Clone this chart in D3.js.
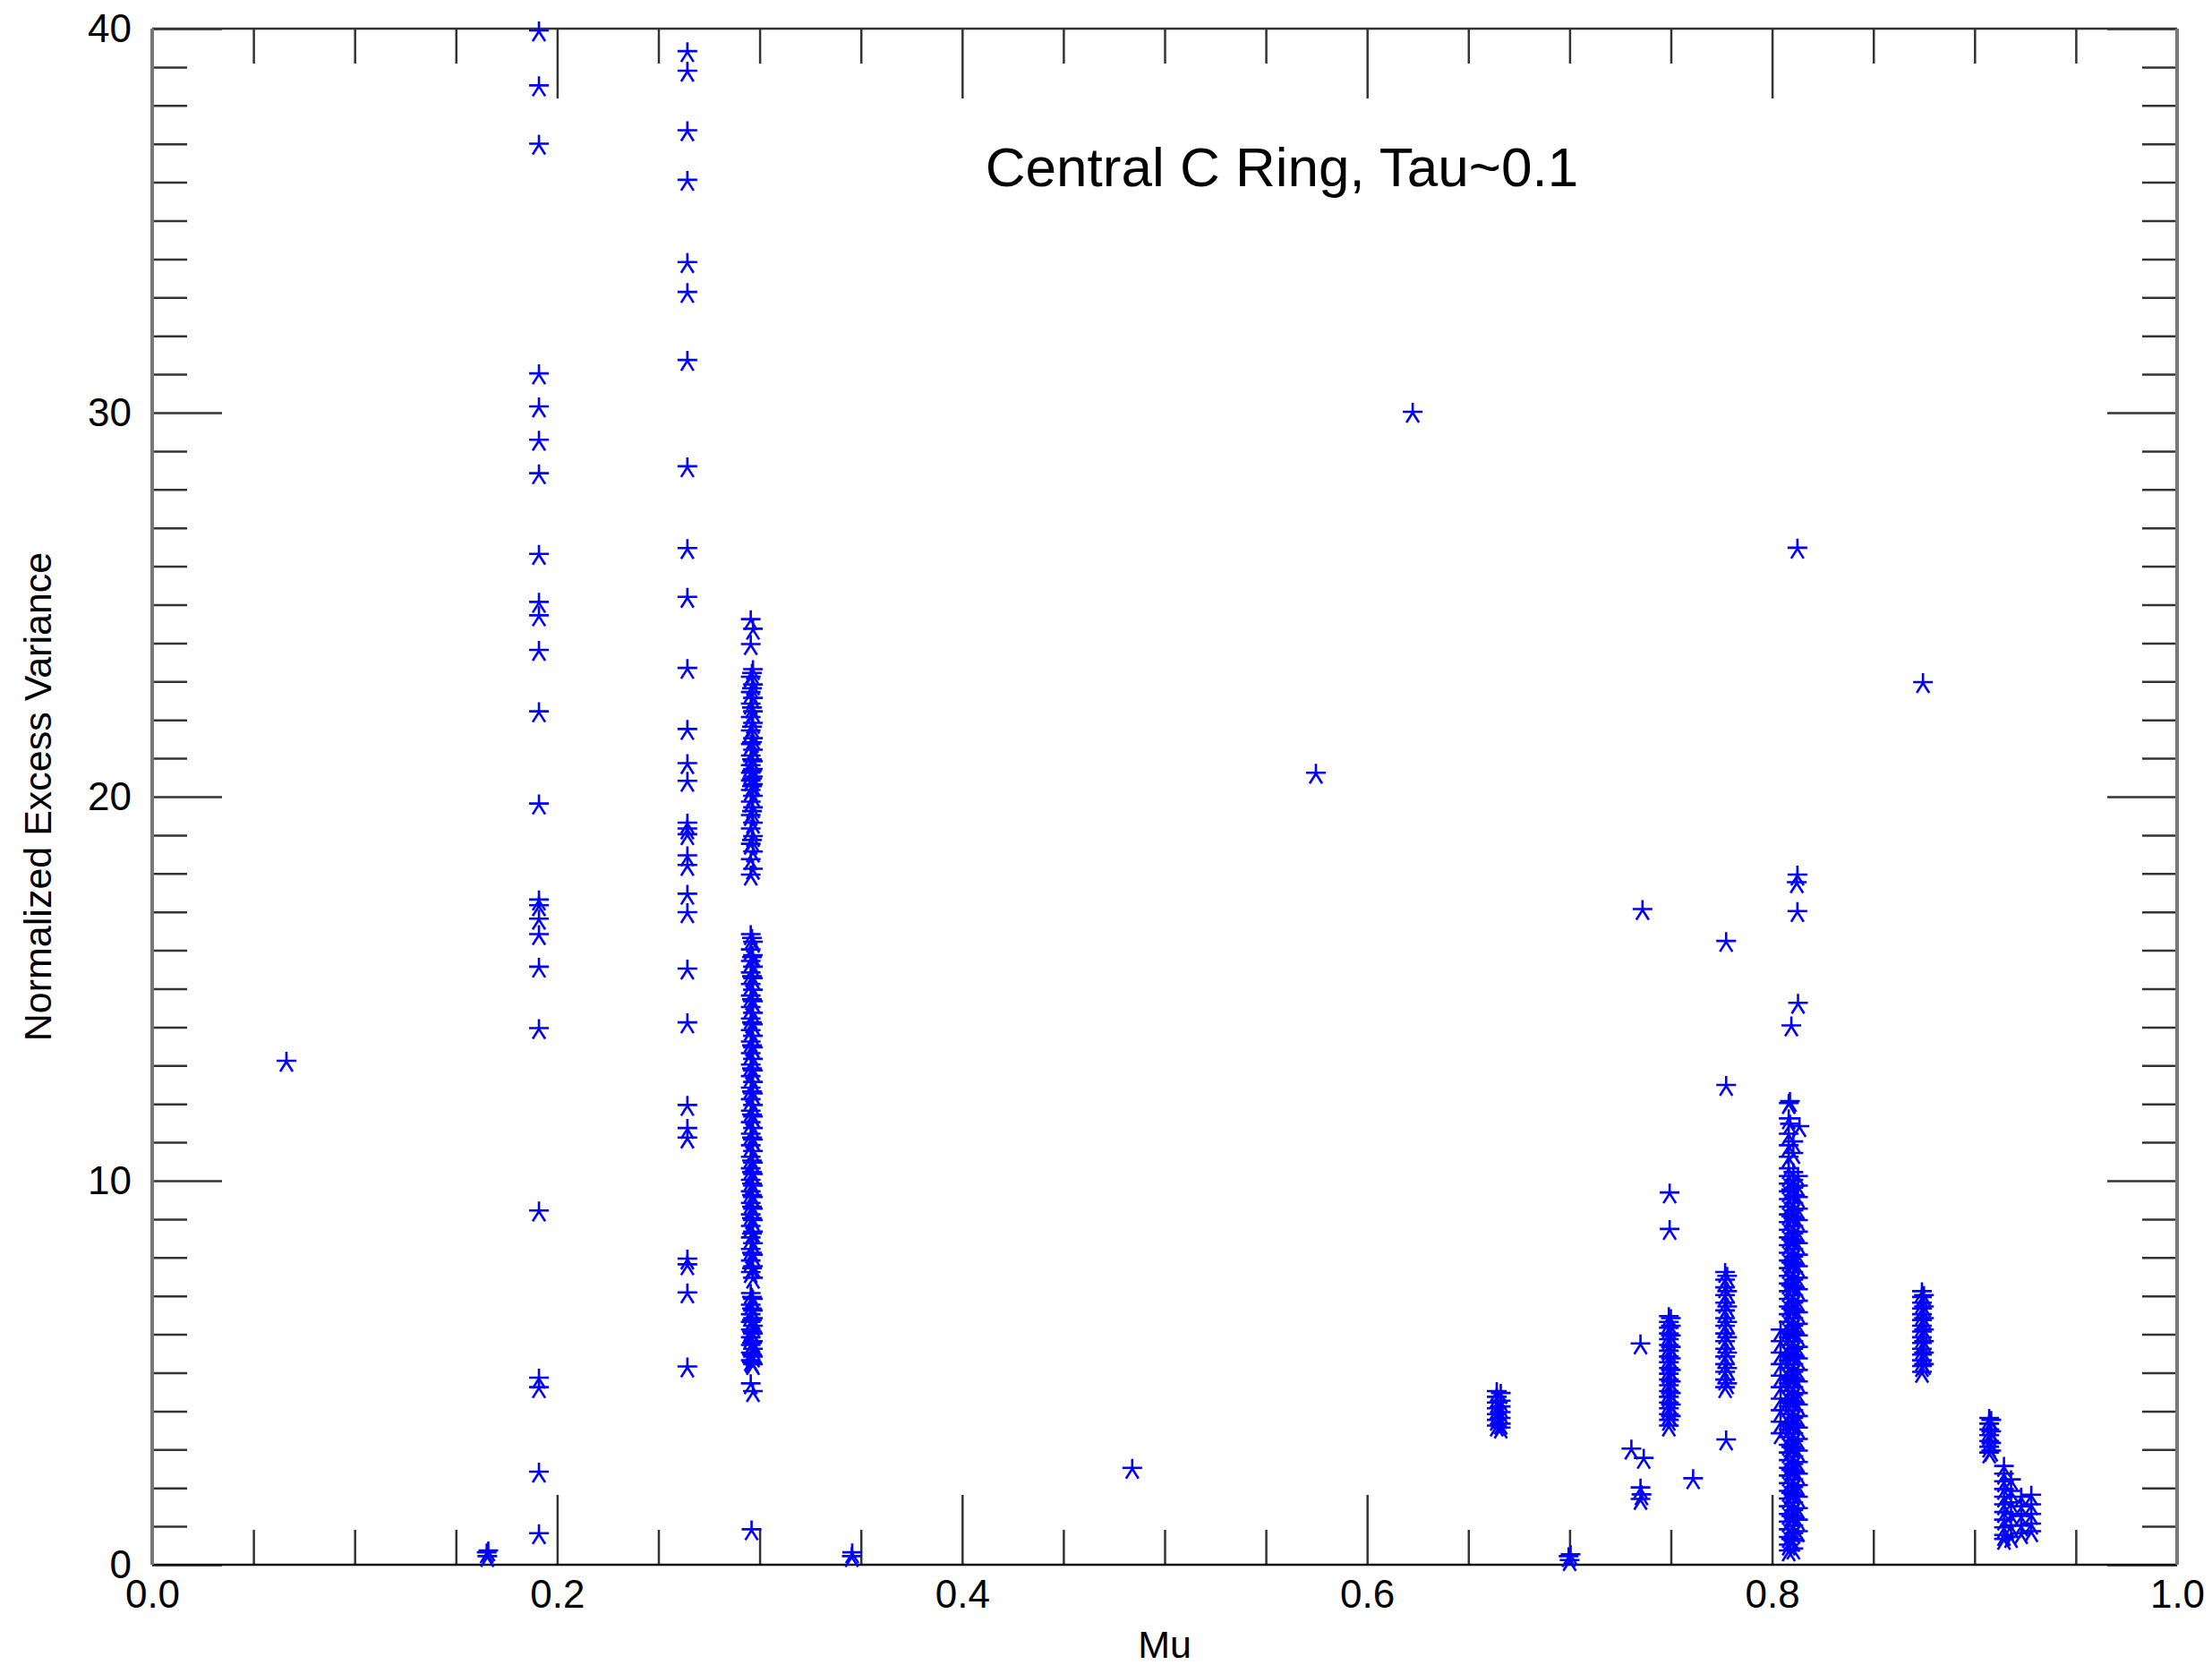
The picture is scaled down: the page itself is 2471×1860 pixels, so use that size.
<!DOCTYPE html>
<html>
<head>
<meta charset="utf-8">
<script src="https://cdn.jsdelivr.net/npm/d3@7"></script>
<style>
  html, body { margin: 0; padding: 0; background: #fff; }
  svg { display: block; }
  text { font-family: "Liberation Sans", Arial, Helvetica, sans-serif; fill: #000; }
</style>
</head>
<body>
<svg id="chart" width="2471" height="1860"></svg>
<script>
// ---------------- DATA ----------------
const chartTitle = "Central C Ring, Tau~0.1";
const xAxisTitle = "Mu";
const yAxisTitle = "Normalized Excess Variance";
const xMajorTicks = [0, 0.2, 0.4, 0.6, 0.8, 1.0];
const xTickLabels = ["0.0", "0.2", "0.4", "0.6", "0.8", "1.0"];
const yMajorTicks = [0, 10, 20, 30, 40];
const yTickLabels = ["0", "10", "20", "30", "40"];

// isolated / sparse points: [mu, variance]
const sparsePoints = [
  [0.0663, 13.1],
  [0.1655, 0.2], [0.1660, 0.35], [0.1652, 0.3],
  [0.2960, 0.9], [0.3457, 0.3], [0.3455, 0.2], [0.4840, 2.5],
  [0.5747, 20.6], [0.6225, 30.0],
  [0.7000, 0.1], [0.6995, 0.2], [0.7005, 0.25],
  [0.7360, 17.05], [0.7350, 5.74], [0.7305, 3.0], [0.7366, 2.76],
  [0.7350, 1.99], [0.7355, 1.81], [0.7350, 1.69], [0.7610, 2.23],
  [0.7494, 9.67], [0.7494, 8.72],
  [0.7773, 16.22], [0.7773, 12.47], [0.7773, 3.24],
  [0.8125, 26.46], [0.8125, 17.95], [0.8122, 17.75], [0.8125, 17.0],
  [0.8128, 14.61], [0.8095, 14.02], [0.8088, 12.05], [0.8088, 11.46], [0.8135, 11.4],
  [0.8745, 22.96]
];

// column at mu ~ 0.191
const mu191 = 0.191;
const var191 = [39.93, 38.5, 36.98, 31.0, 30.14, 29.27, 28.4, 26.3, 25.05, 24.7, 23.8, 22.2,
  19.8, 17.3, 17.15, 16.8, 16.4, 15.55, 13.95, 9.2, 4.85, 4.6, 2.4, 0.8];

// column at mu ~ 0.264
const mu264 = 0.2643;
const var264 = [39.39, 38.88, 37.33, 36.04, 33.9, 33.12, 31.35, 28.58, 26.45, 25.18, 23.33,
  21.74, 20.85, 20.39, 19.3, 19.15, 19.0, 18.45, 18.2, 17.45, 16.97, 15.5, 14.1, 11.95,
  11.35, 11.1, 7.95, 7.8, 7.07, 5.14];

// dense column at mu ~ 0.296
const mu296a = 0.2956;
const var296a = [24.6, 23.95, 23.1, 22.7, 22.4, 22.05, 21.7, 21.35, 21.05, 20.8, 20.6, 20.4,
  20.15, 19.85, 19.5, 19.15, 18.75, 18.35, 17.95,
  16.4, 16.0, 15.7, 15.4, 15.1, 14.8, 14.5, 14.2, 13.9, 13.6, 13.3, 13.0, 12.7, 12.4, 12.1,
  11.8, 11.5, 11.2, 10.9, 10.6, 10.3, 10.0, 9.7, 9.4, 9.1, 8.8, 8.5, 8.2, 7.9, 7.6,
  7.05, 6.75, 6.5, 6.3, 6.1, 5.9, 5.7, 5.5, 5.3, 4.7];
const mu296b = 0.2967;
const var296b = [24.35, 23.3, 22.9, 22.55, 22.2, 21.9, 21.5, 21.2, 20.9, 20.7, 20.5, 20.3,
  20.0, 19.7, 19.3, 18.95, 18.55, 18.1,
  16.2, 15.85, 15.55, 15.25, 14.95, 14.65, 14.35, 14.05, 13.75, 13.45, 13.15, 12.85, 12.55,
  12.25, 11.95, 11.65, 11.35, 11.05, 10.75, 10.45, 10.15, 9.85, 9.55, 9.25, 8.95, 8.65, 8.35,
  8.05, 7.75, 7.45,
  6.9, 6.6, 6.4, 6.2, 6.0, 5.8, 5.6, 5.4, 5.2, 4.5];
const mu296c = 0.2962;
const var296c = [23.2, 22.8, 22.3, 21.8, 21.4, 20.95, 20.65, 20.45, 20.25, 19.6, 18.85,
  16.3, 15.8, 15.3, 14.7, 14.1, 13.5, 12.9, 12.3, 11.7, 11.1, 10.5, 10.2, 9.9, 9.6, 9.3,
  9.0, 8.6, 8.1, 7.7, 6.95, 6.65, 6.35, 6.05, 5.75, 5.45, 5.25];

// cluster at mu ~ 0.665
const mu665a = 0.6640;
const var665a = [4.5, 4.35, 4.2, 4.05, 3.9, 3.75, 3.6];
const mu665b = 0.6660;
const var665b = [4.45, 4.25, 4.1, 3.95, 3.8, 3.65, 3.55];

// cluster at mu ~ 0.749
const mu749a = 0.7490;
const var749a = [6.45, 6.3, 6.15, 6.0, 5.85, 5.7, 5.55, 5.4, 5.25, 5.1, 4.95, 4.8, 4.65, 4.5,
  4.35, 4.2, 4.05, 3.9, 3.75, 3.6];
const mu749b = 0.7500;
const var749b = [6.4, 6.2, 5.95, 5.65, 5.35, 5.05, 4.75, 4.45, 4.15, 3.85];

// cluster at mu ~ 0.777
const mu777a = 0.7768;
const var777a = [7.6, 7.4, 7.2, 7.0, 6.8, 6.6, 6.4, 6.2, 6.0, 5.8, 5.6, 5.4, 5.2, 5.0, 4.8, 4.6];
const mu777b = 0.7778;
const var777b = [7.5, 7.1, 6.7, 6.3, 5.9, 5.5, 5.1, 4.7];

// big cluster at mu ~ 0.81 (four sub-columns)
const mu81a = 0.8082;
const var81a = [12.0, 11.6, 11.2, 10.9, 10.6, 10.3, 10.1, 9.9, 9.7, 9.5, 9.3, 9.1, 8.9, 8.7,
  8.5, 8.3, 8.1, 7.9, 7.7, 7.5, 7.3, 7.1, 6.9, 6.7, 6.5, 6.3, 6.1, 5.9, 5.7, 5.5, 5.3, 5.1,
  4.9, 4.7, 4.5, 4.3, 4.1, 3.9, 3.7, 3.5, 3.3, 3.1, 2.9, 2.7, 2.5, 2.3, 2.1, 1.9, 1.7, 1.5,
  1.3, 1.1, 0.9, 0.7, 0.5, 0.35];
const mu81b = 0.8105;
const var81b = [11.0, 10.7, 10.2, 10.0, 9.8, 9.6, 9.4, 9.2, 9.0, 8.8, 8.6, 8.4, 8.2, 8.0, 7.8,
  7.6, 7.4, 7.2, 7.0, 6.8, 6.6, 6.4, 6.2, 6.0, 5.8, 5.6, 5.4, 5.2, 5.0, 4.8, 4.6, 4.4, 4.2,
  4.0, 3.8, 3.6, 3.4, 3.2, 3.0, 2.8, 2.6, 2.4, 2.2, 2.0, 1.8, 1.6, 1.4, 1.2, 1.0, 0.8, 0.6, 0.4];
const mu81c = 0.8128;
const var81c = [10.1, 9.85, 9.55, 9.25, 8.95, 8.65, 8.35, 8.05, 7.75, 7.45, 7.15, 6.85, 6.55,
  6.25, 5.95, 5.65, 5.35, 5.05, 4.75, 4.45, 4.15, 3.85, 3.55, 3.25, 2.95, 2.65, 2.35, 2.05,
  1.75, 1.45, 1.15, 0.85];
const mu81d = 0.8042;
const var81d = [6.1, 5.8, 5.5, 5.2, 4.9, 4.6, 4.3, 4.0, 3.7, 3.4];
const mu81e = 0.8094;
const var81e = [9.75, 9.05, 8.45, 7.85, 7.25, 6.65, 6.05, 5.45, 4.85, 4.25, 3.65, 3.05,
  2.45, 1.85, 1.25, 0.65];

// cluster at mu ~ 0.8745
const mu874a = 0.8740;
const var874a = [7.1, 6.95, 6.8, 6.65, 6.5, 6.35, 6.2, 6.05, 5.9, 5.75, 5.6, 5.45, 5.3, 5.15, 5.0];
const mu874b = 0.8750;
const var874b = [7.0, 6.7, 6.4, 6.1, 5.8, 5.5, 5.2];

// cluster at mu ~ 0.908
const mu908a = 0.9072;
const var908a = [3.8, 3.65, 3.5, 3.35, 3.2, 3.05, 2.9];
const mu908b = 0.9082;
const var908b = [3.75, 3.45, 3.15, 2.95];

// cluster at mu ~ 0.915 - 0.93
const mu915 = 0.9145;
const var915 = [2.55, 2.35, 2.15, 1.95, 1.75, 1.55, 1.35, 1.15, 0.95, 0.75, 0.65];
const mu918 = 0.918;
const var918 = [2.2, 1.9, 1.6, 1.3, 1.0, 0.7];
const mu923 = 0.923;
const var923 = [1.75, 1.5, 1.25, 1.0, 0.8];
const mu928 = 0.928;
const var928 = [1.8, 1.55, 1.3, 1.05, 0.85];

// ---------------- BUILD POINT TABLE ----------------
const columns = [
  [mu191, var191], [mu264, var264], [mu296a, var296a], [mu296b, var296b], [mu296c, var296c],
  [mu665a, var665a], [mu665b, var665b], [mu749a, var749a], [mu749b, var749b],
  [mu777a, var777a], [mu777b, var777b],
  [mu81d, var81d], [mu81a, var81a], [mu81b, var81b], [mu81c, var81c], [mu81e, var81e],
  [mu874a, var874a], [mu874b, var874b], [mu908a, var908a], [mu908b, var908b],
  [mu915, var915], [mu918, var918], [mu923, var923], [mu928, var928]
];
const points = sparsePoints.map(p => ({ mu: p[0], v: p[1] }));
columns.forEach(([m, vs]) => vs.forEach(v => points.push({ mu: m, v: v })));

// ---------------- LAYOUT ----------------
const L = 170, R = 2432, T = 32, B = 1748;
const svg = d3.select("#chart");
const x = d3.scaleLinear().domain([0, 1]).range([L, R]);
const y = d3.scaleLinear().domain([0, 40]).range([B, T]);

const tickColor = "#333";
const FONT = 44;

// minor ticks
const xMinor = d3.range(0, 1.0001, 0.05).filter(t => xMajorTicks.every(m => Math.abs(m - t) > 1e-6));
const yMinor = d3.range(0, 40.0001, 1).filter(t => yMajorTicks.indexOf(t) < 0);

function styleAxis(g) {
  g.select(".domain").remove();
  g.selectAll(".tick line").attr("stroke", tickColor).attr("stroke-width", 2.5);
}

// bottom
svg.append("g").attr("transform", `translate(0,${B})`)
  .call(d3.axisBottom(x).tickValues(xMinor).tickSize(-39).tickFormat(""))
  .call(styleAxis);
svg.append("g").attr("transform", `translate(0,${B})`)
  .call(d3.axisBottom(x).tickValues(xMajorTicks).tickSize(-78).tickPadding(17)
    .tickFormat((d, i) => xTickLabels[i]))
  .call(styleAxis)
  .call(g => g.selectAll("text").attr("font-size", FONT).attr("fill", "#000")
    .style("font-family", '"Liberation Sans", Arial, Helvetica, sans-serif'));
// top
svg.append("g").attr("transform", `translate(0,${T})`)
  .call(d3.axisTop(x).tickValues(xMinor).tickSize(-39).tickFormat(""))
  .call(styleAxis);
svg.append("g").attr("transform", `translate(0,${T})`)
  .call(d3.axisTop(x).tickValues(xMajorTicks).tickSize(-78).tickFormat(""))
  .call(styleAxis);
// left
svg.append("g").attr("transform", `translate(${L},0)`)
  .call(d3.axisLeft(y).tickValues(yMinor).tickSize(-39).tickFormat(""))
  .call(styleAxis);
svg.append("g").attr("transform", `translate(${L},0)`)
  .call(d3.axisLeft(y).tickValues(yMajorTicks).tickSize(-78).tickPadding(23)
    .tickFormat((d, i) => yTickLabels[i]))
  .call(styleAxis)
  .call(g => g.selectAll("text").attr("font-size", FONT).attr("fill", "#000")
    .style("font-family", '"Liberation Sans", Arial, Helvetica, sans-serif'));
// right
svg.append("g").attr("transform", `translate(${R},0)`)
  .call(d3.axisRight(y).tickValues(yMinor).tickSize(-39).tickFormat(""))
  .call(styleAxis);
svg.append("g").attr("transform", `translate(${R},0)`)
  .call(d3.axisRight(y).tickValues(yMajorTicks).tickSize(-78).tickFormat(""))
  .call(styleAxis);

// frame
svg.append("line").attr("x1", L).attr("x2", R).attr("y1", T).attr("y2", T)
  .attr("stroke", "#333").attr("stroke-width", 2.5);
svg.append("line").attr("x1", L).attr("x2", R).attr("y1", B).attr("y2", B)
  .attr("stroke", "#111").attr("stroke-width", 2.5);
svg.append("line").attr("x1", L).attr("x2", L).attr("y1", T).attr("y2", B)
  .attr("stroke", "#777").attr("stroke-width", 4);
svg.append("line").attr("x1", R).attr("x2", R).attr("y1", T).attr("y2", B)
  .attr("stroke", "#777").attr("stroke-width", 4);

// markers (IDL-style asterisk)
const starPath = "M0,-11L0,0M-11,-1L11,-1M0,0L-7,11M0,0L7,11";
svg.append("g").selectAll("path").data(points).enter().append("path")
  .attr("d", starPath)
  .attr("transform", d => `translate(${x(d.mu)},${y(d.v)})`)
  .attr("fill", "none").attr("stroke", "#0000ff").attr("stroke-width", 2.6);

// title
svg.append("text").attr("x", 1432).attr("y", 208).attr("text-anchor", "middle")
  .attr("font-size", 62).text(chartTitle);
// axis titles
svg.append("text").attr("x", (L + R) / 2).attr("y", 1852).attr("text-anchor", "middle")
  .attr("font-size", 43).text(xAxisTitle);
svg.append("text").attr("transform", `translate(57,${(T + B) / 2}) rotate(-90)`)
  .attr("text-anchor", "middle").attr("font-size", 43).text(yAxisTitle);
</script>
</body>
</html>
